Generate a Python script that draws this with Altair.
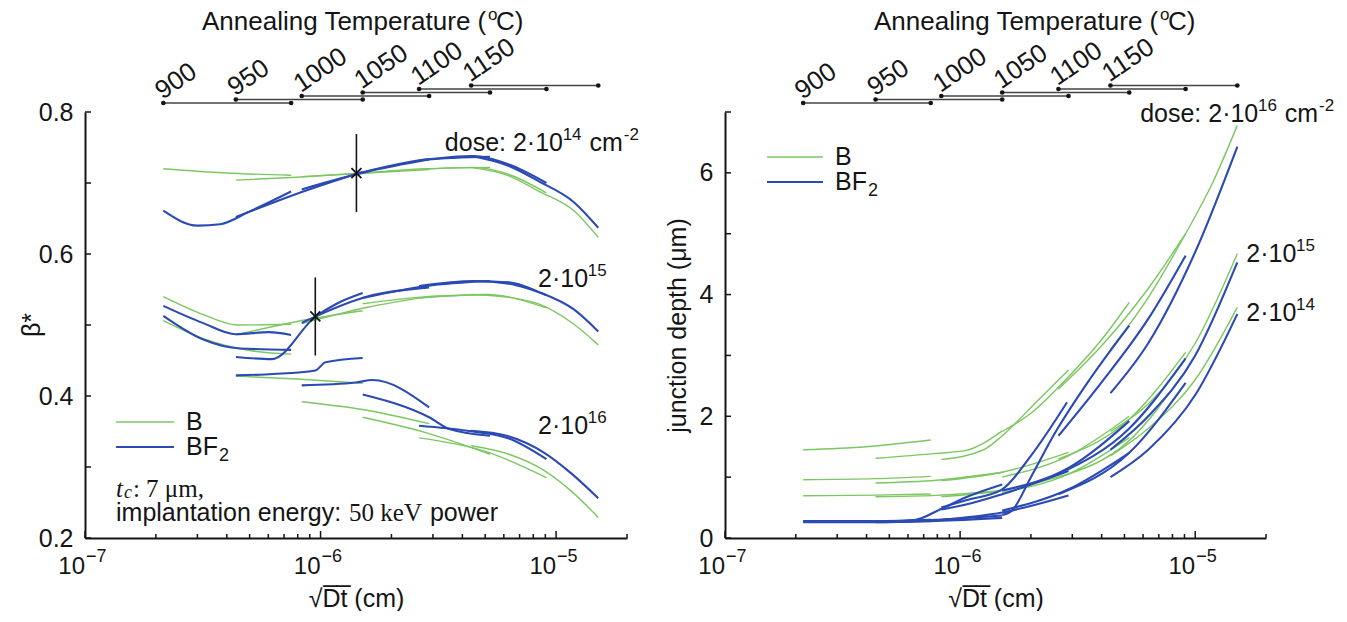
import altair as alt
import pandas as pd

FONT = "Liberation Sans"
SERIF = "Liberation Serif"
GREEN = "#7cc760"
BLUE = "#2b4ab3"
INK = "#151515"
W, H = 542, 426
SPECIES = ["B", "BF₂"]

# annealing temperatures (°C) and the sqrt(Dt) span each one covers (cm)
TEMPS = [900, 950, 1000, 1050, 1100, 1150]
T_START = [2.15e-7, 4.37e-7, 8.32e-7, 1.51e-6, 2.62e-6, 4.36e-6]
T_END = [7.5e-7, 1.51e-6, 2.89e-6, 5.24e-6, 9.1e-6, 1.51e-5]

X_MAJOR = [1e-7, 1e-6, 1e-5]
X_EXP = ["−7", "−6", "−5"]
X_MINOR = [2e-7, 3e-7, 4e-7, 5e-7, 6e-7, 7e-7, 8e-7, 9e-7,
           2e-6, 3e-6, 4e-6, 5e-6, 6e-6, 7e-6, 8e-6, 9e-6, 2e-5]

# ---- beta* versus sqrt(Dt): {temperature: (sqrt(Dt) [cm], beta*)} ----
BETA_B_2E14 = {
    900: ([2.15e-7, 3.98e-7, 7.5e-7], [0.720, 0.714, 0.711]),
    950: ([4.37e-7, 7.94e-7, 1.51e-6], [0.704, 0.708, 0.714]),
    1000: ([8.32e-7, 1.58e-6, 2.89e-6], [0.709, 0.714, 0.719]),
    1050: ([1.51e-6, 2.82e-6, 5.24e-6], [0.714, 0.720, 0.722]),
    1100: ([2.62e-6, 4.47e-6, 6.31e-6, 9.1e-6], [0.719, 0.722, 0.712, 0.686]),
    1150: ([4.36e-6, 6.31e-6, 8.38e-6, 1.19e-5, 1.51e-5], [0.722, 0.710, 0.689, 0.661, 0.6235]),
}
BETA_F_2E14 = {
    900: ([2.15e-7, 3.0e-7, 3.75e-7, 5.01e-7, 7.5e-7], [0.661, 0.640, 0.642, 0.660, 0.688]),
    950: ([4.37e-7, 7.94e-7, 1.51e-6], [0.652, 0.685, 0.716]),
    1000: ([8.32e-7, 1.58e-6, 2.89e-6], [0.691, 0.716, 0.733]),
    1050: ([1.51e-6, 2.82e-6, 5.24e-6], [0.715, 0.733, 0.737]),
    1100: ([2.62e-6, 4.47e-6, 6.31e-6, 9.1e-6], [0.732, 0.738, 0.726, 0.700]),
    1150: ([4.36e-6, 6.31e-6, 8.38e-6, 1.19e-5, 1.51e-5], [0.738, 0.724, 0.703, 0.673, 0.637]),
}
BETA_B_2E15 = {
    900: ([2.15e-7, 3.16e-7, 4.47e-7, 7.5e-7], [0.540, 0.515, 0.500, 0.501]),
    950: ([4.37e-7, 7.94e-7, 1.51e-6], [0.486, 0.505, 0.520]),
    1000: ([8.32e-7, 1.58e-6, 2.89e-6], [0.502, 0.525, 0.540]),
    1050: ([1.51e-6, 2.82e-6, 5.24e-6], [0.530, 0.540, 0.543]),
    1100: ([2.62e-6, 5.01e-6, 9.1e-6], [0.538, 0.543, 0.524]),
    1150: ([4.36e-6, 6.31e-6, 8.38e-6, 1.19e-5, 1.51e-5], [0.543, 0.539, 0.530, 0.501, 0.472]),
}
BETA_F_2E15 = {
    900: ([2.15e-7, 3.16e-7, 4.37e-7, 6.03e-7, 7.5e-7], [0.527, 0.503, 0.487, 0.490, 0.486]),
    950: ([4.37e-7, 6.2e-7, 9.53e-7, 1.17e-6, 1.51e-6], [0.455, 0.452, 0.512, 0.530, 0.545]),
    1000: ([8.32e-7, 9.53e-7, 1.58e-6, 2.89e-6], [0.503, 0.512, 0.540, 0.553]),
    1050: ([1.51e-6, 2.82e-6, 5.24e-6], [0.538, 0.555, 0.562]),
    1100: ([2.62e-6, 4.47e-6, 6.31e-6, 9.1e-6], [0.555, 0.562, 0.558, 0.542]),
    1150: ([4.36e-6, 6.31e-6, 8.38e-6, 1.19e-5, 1.51e-5], [0.562, 0.560, 0.547, 0.522, 0.491]),
}
BETA_B_2E16 = {
    900: ([2.15e-7, 3.16e-7, 5.01e-7, 7.5e-7], [0.506, 0.481, 0.464, 0.459]),
    950: ([4.37e-7, 7.94e-7, 1.51e-6], [0.428, 0.424, 0.418]),
    1000: ([8.32e-7, 1.51e-6, 2.89e-6], [0.392, 0.381, 0.361]),
    1050: ([1.51e-6, 2.82e-6, 5.24e-6], [0.370, 0.348, 0.318]),
    1100: ([2.62e-6, 5.01e-6, 9.1e-6], [0.341, 0.322, 0.285]),
    1150: ([4.36e-6, 6.31e-6, 8.91e-6, 1.17e-5, 1.51e-5], [0.330, 0.318, 0.295, 0.265, 0.229]),
}
BETA_F_2E16 = {
    900: ([2.15e-7, 3.16e-7, 4.57e-7, 7.5e-7], [0.513, 0.480, 0.467, 0.465]),
    950: ([4.37e-7, 6.31e-7, 9.5e-7, 1.05e-6, 1.51e-6], [0.429, 0.431, 0.436, 0.4475, 0.4535]),
    1000: ([8.32e-7, 1.41e-6, 1.66e-6, 2.89e-6], [0.415, 0.419, 0.4225, 0.384]),
    1050: ([1.51e-6, 2.89e-6, 3.55e-6, 5.24e-6], [0.402, 0.370, 0.353, 0.344]),
    1100: ([2.62e-6, 4.2e-6, 6.31e-6, 9.1e-6], [0.358, 0.351, 0.340, 0.311]),
    1150: ([4.36e-6, 6.17e-6, 8.91e-6, 1.17e-5, 1.51e-5], [0.351, 0.344, 0.320, 0.290, 0.256]),
}

# crossing marks on the beta* curves with their vertical bars
CROSS_X = [1.42e-6, 9.5e-7]
CROSS_Y = [0.714, 0.512]
BAR_LO = [0.659, 0.457]
BAR_HI = [0.769, 0.567]

# ---- junction depth (um) versus sqrt(Dt) ----
XJ_B_2E16 = {
    900: ([2.15e-7, 3.98e-7, 7.5e-7], [1.45, 1.50, 1.61]),
    950: ([4.37e-7, 7.94e-7, 1.06e-6, 1.26e-6, 1.51e-6], [1.31, 1.39, 1.44, 1.56, 1.76]),
    1000: ([8.32e-7, 1.26e-6, 1.51e-6, 2.14e-6, 2.89e-6], [1.29, 1.45, 1.68, 2.26, 2.76]),
    1050: ([1.51e-6, 2.0e-6, 2.89e-6, 3.98e-6, 5.24e-6], [1.75, 2.05, 2.65, 3.25, 3.87]),
    1100: ([2.62e-6, 3.98e-6, 6.31e-6, 9.1e-6], [2.45, 3.15, 4.10, 5.00]),
    1150: ([4.36e-6, 6.31e-6, 9.1e-6, 1.19e-5, 1.51e-5], [3.10, 3.95, 5.00, 5.85, 6.78]),
}
XJ_F_2E16 = {
    900: ([2.15e-7, 4.37e-7, 7.5e-7], [0.27, 0.27, 0.29]),
    950: ([4.37e-7, 6.31e-7, 8.32e-7, 1.06e-6, 1.51e-6], [0.27, 0.29, 0.48, 0.67, 0.88]),
    1000: ([8.32e-7, 1.06e-6, 1.51e-6, 2.0e-6, 2.85e-6], [0.50, 0.62, 0.80, 1.35, 2.23]),
    1050: ([1.51e-6, 1.66e-6, 2.0e-6, 2.51e-6, 3.55e-6, 5.24e-6], [0.38, 0.45, 1.00, 1.70, 2.60, 3.49]),
    1100: ([2.62e-6, 3.98e-6, 6.31e-6, 9.1e-6], [1.68, 2.55, 3.60, 4.64]),
    1150: ([4.36e-6, 6.31e-6, 1.0e-5, 1.51e-5], [2.38, 3.20, 4.70, 6.43]),
}
XJ_B_2E15 = {
    900: ([2.15e-7, 4.37e-7, 7.5e-7], [0.958, 0.975, 1.013]),
    950: ([4.37e-7, 7.94e-7, 1.51e-6], [0.904, 0.950, 1.080]),
    1000: ([8.32e-7, 1.51e-6, 2.89e-6], [0.942, 1.080, 1.408]),
    1050: ([1.51e-6, 2.89e-6, 5.24e-6], [1.00, 1.35, 2.00]),
    1100: ([2.62e-6, 5.24e-6, 9.1e-6], [1.30, 1.95, 3.05]),
    1150: ([4.36e-6, 6.31e-6, 1.0e-5, 1.51e-5], [1.75, 2.20, 3.20, 4.67]),
}
XJ_F_2E15 = {
    900: ([2.15e-7, 4.37e-7, 7.5e-7], [0.28, 0.28, 0.30]),
    950: ([4.37e-7, 7.94e-7, 1.51e-6], [0.27, 0.30, 0.37]),
    1000: ([8.32e-7, 1.06e-6, 1.51e-6, 2.89e-6], [0.47, 0.55, 0.72, 1.10]),
    1050: ([1.51e-6, 2.89e-6, 5.24e-6], [0.78, 1.15, 1.92]),
    1100: ([2.62e-6, 5.24e-6, 9.1e-6], [1.05, 1.80, 2.95]),
    1150: ([4.36e-6, 6.31e-6, 1.0e-5, 1.51e-5], [1.45, 2.00, 3.00, 4.53]),
}
XJ_B_2E14 = {
    900: ([2.15e-7, 4.37e-7, 7.5e-7], [0.695, 0.705, 0.723]),
    950: ([4.37e-7, 7.94e-7, 1.51e-6], [0.679, 0.700, 0.780]),
    1000: ([8.32e-7, 1.51e-6, 2.89e-6], [0.679, 0.780, 1.050]),
    1050: ([1.51e-6, 2.89e-6, 5.24e-6], [0.75, 1.05, 1.65]),
    1100: ([2.62e-6, 5.24e-6, 9.1e-6], [1.00, 1.60, 2.75]),
    1150: ([4.36e-6, 6.31e-6, 1.0e-5, 1.51e-5], [1.35, 1.80, 2.60, 3.79]),
}
XJ_F_2E14 = {
    900: ([2.15e-7, 4.37e-7, 7.5e-7], [0.26, 0.26, 0.28]),
    950: ([4.37e-7, 7.94e-7, 1.51e-6], [0.26, 0.28, 0.33]),
    1000: ([8.32e-7, 1.51e-6, 2.89e-6], [0.30, 0.42, 0.70]),
    1050: ([1.51e-6, 2.89e-6, 5.24e-6], [0.45, 0.80, 1.40]),
    1100: ([2.62e-6, 5.24e-6, 9.1e-6], [0.72, 1.40, 2.55]),
    1150: ([4.36e-6, 6.31e-6, 1.0e-5, 1.51e-5], [1.00, 1.45, 2.35, 3.68]),
}


def seg_rows(table, species, dose):
    rows = []
    k = SPECIES.index(species)
    for temp, (xs, ys) in table.items():
        for i, (x, y) in enumerate(zip(xs, ys)):
            rows.append({"species": species, "seg": f"{k}-{dose}-{temp}", "i": i, "x": x, "y": y})
    return rows


beta_df = pd.DataFrame(
    seg_rows(BETA_B_2E14, "B", "2e14") + seg_rows(BETA_B_2E15, "B", "2e15") + seg_rows(BETA_B_2E16, "B", "2e16")
    + seg_rows(BETA_F_2E14, "BF₂", "2e14") + seg_rows(BETA_F_2E15, "BF₂", "2e15") + seg_rows(BETA_F_2E16, "BF₂", "2e16")
)
xj_df = pd.DataFrame(
    seg_rows(XJ_B_2E14, "B", "2e14") + seg_rows(XJ_B_2E15, "B", "2e15") + seg_rows(XJ_B_2E16, "B", "2e16")
    + seg_rows(XJ_F_2E14, "BF₂", "2e14") + seg_rows(XJ_F_2E15, "BF₂", "2e15") + seg_rows(XJ_F_2E16, "BF₂", "2e16")
)

XS = alt.Scale(type="log", domain=[1e-7, 2e-5])
X_AXIS = alt.Axis(values=X_MAJOR, labels=False, ticks=False, grid=False, domainColor=INK, domainWidth=2,
                  title="√D\u0305t\u0305 (cm)", titleFont=FONT, titleFontSize=25, titleFontWeight="normal",
                  titleColor=INK, titlePadding=48)

# approximate advance widths (em) for placing rich-text pieces side by side
SANS_EM = {c: 0.556 for c in "0123456789abdeghnopqu"}
SANS_EM.update({"c": 0.5, "f": 0.278, "i": 0.222, "j": 0.222, "k": 0.5, "l": 0.222, "m": 0.833,
                "r": 0.333, "s": 0.5, "t": 0.278, "v": 0.5, "w": 0.722, "x": 0.5, "y": 0.5, "z": 0.5,
                "A": 0.667, "B": 0.667, "C": 0.722, "F": 0.611, "T": 0.611, " ": 0.278, "(": 0.333,
                ")": 0.333, ":": 0.278, "·": 0.278, ".": 0.278, ",": 0.278, "-": 0.333, "−": 0.584})
SERIF_EM = {c: 0.5 for c in "0123456789"}
SERIF_EM.update({"a": 0.444, "c": 0.444, "e": 0.444, "k": 0.5, "m": 0.778, "t": 0.278, "V": 0.722,
                 " ": 0.25, ":": 0.278, ",": 0.25, "μ": 0.55})


def text_w(s, size, font):
    table = SERIF_EM if font == SERIF else SANS_EM
    return size * sum(table.get(c, 0.55) for c in s)


class Panel:
    def __init__(self, ys, yaxis):
        self.ys = ys
        self.yaxis = yaxis
        self.layers = []

    def X(self, field):
        return alt.X(field, scale=XS, axis=X_AXIS)

    def Y(self, field):
        return alt.Y(field, scale=self.ys, axis=self.yaxis)

    def rich(self, pieces, x, y, data_space=True, gap=1.0):
        """Pieces are (text, size, rise, font, style) laid out left to right."""
        src = pd.DataFrame({"ax": [x], "ay": [y]})
        off = 0.0
        for txt, size, rise, font, style in pieces:
            lead = len(txt) - len(txt.lstrip(" "))
            off += text_w(" " * lead, size, font)
            body = txt.strip(" ")
            kw = dict(text=body, align="left", baseline="alphabetic", dx=round(off, 1), dy=-rise,
                      fontSize=size, font=font, color=INK)
            if style:
                kw["fontStyle"] = style
            if data_space:
                enc = dict(x=self.X("ax:Q"), y=self.Y("ay:Q"))
            else:
                enc = dict(x=alt.value(x), y=alt.value(y))
            self.layers.append(alt.Chart(src).mark_text(**kw).encode(**enc))
            off += text_w(txt.lstrip(" "), size, font) + gap

    def lines(self, df):
        self.layers.append(alt.Chart(df).mark_line(interpolate="monotone").encode(
            x=self.X("x:Q"), y=self.Y("y:Q"),
            detail="seg:N", order="i:Q",
            color=alt.Color("species:N", scale=alt.Scale(domain=SPECIES, range=[GREEN, BLUE]), legend=None),
            strokeWidth=alt.StrokeWidth("species:N", scale=alt.Scale(domain=SPECIES, range=[1.4, 2.1]),
                                        legend=None),
        ))

    def frame(self, ytick_vals):
        """Inward ticks, power-of-ten labels and the annealing-temperature ruler."""
        for vals, length in ((X_MAJOR, 7), (X_MINOR, 4)):
            self.layers.append(alt.Chart(pd.DataFrame({"v": vals})).mark_rule(color=INK, strokeWidth=1.5).encode(
                x=self.X("v:Q"), y=alt.value(H), y2=alt.value(H - length)))
        self.layers.append(alt.Chart(pd.DataFrame({"v": ytick_vals})).mark_rule(color=INK, strokeWidth=1.5).encode(
            y=self.Y("v:Q"), x=alt.value(0), x2=alt.value(6)))
        lab = pd.DataFrame({"v": X_MAJOR, "e": X_EXP})
        self.layers.append(alt.Chart(lab).mark_text(align="right", baseline="alphabetic", fontSize=24, font=FONT,
                                                    color=INK, text="10").encode(
            x=self.X("v:Q"), y=alt.value(H + 36)))
        self.layers.append(alt.Chart(lab).mark_text(align="left", baseline="alphabetic", fontSize=18, font=FONT,
                                                    color=INK, dx=1).encode(
            x=self.X("v:Q"), y=alt.value(H + 24), text="e:N"))
        for i, (t, s, e) in enumerate(zip(TEMPS, T_START, T_END)):
            ypx = -9 - 3.5 * i
            row = alt.Chart(pd.DataFrame({"t": [str(t)], "s": [s], "e": [e]}))
            self.layers.append(row.mark_rule(color="#444", strokeWidth=1.3).encode(
                x=self.X("s:Q"), x2="e:Q", y=alt.value(ypx)))
            for f in ("s", "e"):
                self.layers.append(row.mark_circle(color=INK, size=22, opacity=1).encode(
                    x=self.X(f"{f}:Q"), y=alt.value(ypx)))
            self.layers.append(row.mark_text(angle=326, align="left", baseline="alphabetic", fontSize=26,
                                             font=FONT, color=INK, dx=1, dy=-3).encode(
                x=self.X("s:Q"), y=alt.value(ypx), text="t:N"))

    def legend(self, x0, x1, ytop, gap):
        for k, sp in enumerate(SPECIES):
            self.layers.append(alt.Chart(pd.DataFrame({"s": [sp]})).mark_rule(
                color=[GREEN, BLUE][k], strokeWidth=[1.4, 2.1][k]).encode(
                x=alt.value(x0), x2=alt.value(x1), y=alt.value(ytop + gap * k)))
        self.rich([sans("B")], x1 + 12, ytop + 8, data_space=False)
        self.rich([sans("BF"), sans("2", 18, -6)], x1 + 12, ytop + gap + 8, data_space=False)

    def temp_title(self, x):
        self.rich([sans("Annealing Temperature (", 26), sans("o", 17, 10), sans("C)", 26)], x, -82,
                  data_space=False, gap=-1.5)


def sans(t, size=25, rise=0):
    return (t, size, rise, FONT, None)


# ---------------- left panel: beta* ----------------
beta_axis = alt.Axis(values=[0.2, 0.4, 0.6, 0.8], format=".1f", ticks=False, grid=False, domainColor=INK,
                     domainWidth=2, labelFont=FONT, labelFontSize=25, labelColor=INK, labelPadding=12,
                     title=None)
L = Panel(alt.Scale(domain=[0.2, 0.8], nice=False, zero=False), beta_axis)
L.lines(beta_df)
L.frame([0.2, 0.3, 0.4, 0.5, 0.6, 0.7, 0.8])
cross = pd.DataFrame({"x": CROSS_X, "y": CROSS_Y, "lo": BAR_LO, "hi": BAR_HI})
L.layers.append(alt.Chart(cross).mark_rule(color=INK, strokeWidth=1.6).encode(
    x=L.X("x:Q"), y=L.Y("lo:Q"), y2="hi:Q"))
L.layers.append(alt.Chart(cross).mark_point(shape="M-1,-1L1,1M-1,1L1,-1", size=100, color=INK,
                                            strokeWidth=1.8, filled=False, opacity=1).encode(
    x=L.X("x:Q"), y=L.Y("y:Q")))
L.rich([sans("dose: 2·10"), sans("14", 17, 11), sans(" cm"), sans("-2", 17, 11)], 3.37e-6, 0.7455)
L.rich([sans("2·10"), sans("15", 17, 11)], 8.38e-6, 0.5535)
L.rich([sans("2·10"), sans("16", 17, 11)], 8.38e-6, 0.3465)
L.legend(31, 89, 310, 25)
L.rich([("t", 25, 0, SERIF, "italic"), ("c", 18, -1, SERIF, "italic"), (": 7 μm,", 25, 0, SERIF, None)],
       31, 385, data_space=False)
L.rich([sans("implantation energy: "), ("50 keV", 25, 0, SERIF, None), sans(" power")], 31, 409,
       data_space=False)
L.temp_title(117)
L.layers.append(alt.Chart(pd.DataFrame({"t": ["β*"]})).mark_text(
    angle=270, align="center", baseline="middle", fontSize=25, font=FONT, color=INK).encode(
    x=alt.value(-53), y=alt.value(H / 2), text="t:N"))
left_chart = alt.layer(*L.layers).properties(width=W, height=H)

# ---------------- right panel: junction depth ----------------
xj_axis = alt.Axis(values=[0, 2, 4, 6], format="d", ticks=False, grid=False, domainColor=INK, domainWidth=2,
                   labelFont=FONT, labelFontSize=25, labelColor=INK, labelPadding=12,
                   title="junction depth (μm)", titleFont=FONT, titleFontSize=25, titleFontWeight="normal",
                   titleColor=INK, titlePadding=9)
R = Panel(alt.Scale(domain=[0, 7], nice=False, zero=False), xj_axis)
R.lines(xj_df)
R.frame([0, 1, 2, 3, 4, 5, 6, 7])
R.rich([sans("dose: 2·10"), sans("16", 17, 11), sans(" cm"), sans("-2", 17, 11)], 5.83e-6, 6.835)
R.rich([sans("2·10"), sans("15", 17, 11)], 1.65e-5, 4.535)
R.rich([sans("2·10"), sans("14", 17, 11)], 1.65e-5, 3.57)
R.legend(42, 98, 45, 25)
R.temp_title(149)
right_chart = alt.layer(*R.layers).properties(width=541, height=H)

chart = (
    alt.hconcat(left_chart, right_chart, spacing=26)
    .properties(padding={"left": 20, "top": 6, "right": 0, "bottom": 0})
    .configure_view(stroke=None)
)
chart.save("out.html", embed_options={"renderer": "svg", "actions": False})
